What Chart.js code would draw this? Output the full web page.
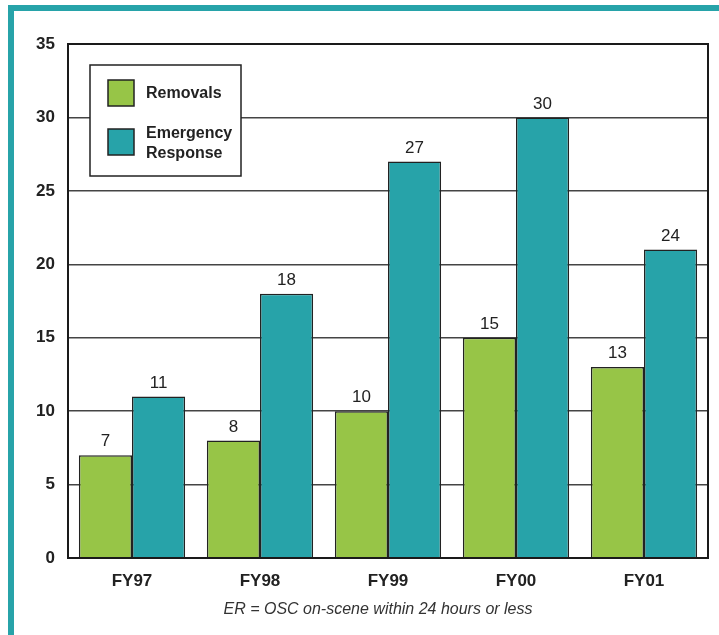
<!DOCTYPE html>
<html>
<head>
<meta charset="utf-8">
<script src="https://cdn.jsdelivr.net/npm/chart.js@4/dist/chart.umd.min.js"></script>
<style>
  html, body { margin: 0; padding: 0; background: #fff; }
  #wrap { width: 719px; height: 635px; position: relative; }
</style>
</head>
<body>
<div id="wrap"><canvas id="chart" width="719" height="635"></canvas></div>
<script>
// data
const years = ['FY97', 'FY98', 'FY99', 'FY00', 'FY01'];
const removals = [7, 8, 10, 15, 13];
const emergency = [11, 18, 27, 30, 21];
// printed labels (the FY01 ER bar is drawn at 21 but labelled 24 in the source)
const removalLabels = ['7', '8', '10', '15', '13'];
const emergencyLabels = ['11', '18', '27', '30', '24'];
const yTicks = [0, 5, 10, 15, 20, 25, 30, 35];
const footnote = 'ER = OSC on-scene within 24 hours or less';

const GREEN = '#97c547';
const TEAL = '#27a3a9';
const FONT = '"Liberation Sans", Arial, Helvetica, sans-serif';

// teal frame, white fill, plot border
const framePlugin = {
    id: 'frame',
    beforeDraw(chart) {
        const ctx = chart.ctx;
        ctx.save();
        ctx.fillStyle = '#fff';
        ctx.fillRect(0, 0, chart.width, chart.height);
        ctx.fillStyle = TEAL;
        ctx.fillRect(8, 5, chart.width - 8, 6);
        ctx.fillRect(8, 5, 6, chart.height - 5);
        ctx.restore();
    },
    afterDraw(chart) {
        const ctx = chart.ctx;
        const a = chart.chartArea;
        ctx.save();
        ctx.strokeStyle = '#1a1a1a';
        ctx.lineWidth = 2;
        ctx.strokeRect(a.left, a.top, a.right - a.left, a.bottom - a.top);

        // footnote
        ctx.fillStyle = '#333';
        ctx.font = 'italic 16px ' + FONT;
        ctx.textAlign = 'center';
        ctx.textBaseline = 'middle';
        ctx.fillText(footnote, 378, 610);
        ctx.restore();
    }
};

// value labels above bars
const valueLabels = {
    id: 'valueLabels',
    afterDatasetsDraw(chart) {
        const ctx = chart.ctx;
        const lists = [removalLabels, emergencyLabels];
        ctx.save();
        ctx.fillStyle = '#222';
        ctx.font = '17px ' + FONT;
        ctx.textAlign = 'center';
        ctx.textBaseline = 'bottom';
        chart.data.datasets.forEach((ds, i) => {
            chart.getDatasetMeta(i).data.forEach((bar, j) => {
                ctx.fillText(lists[i][j], bar.x, bar.y - 5);
            });
        });
        ctx.restore();
    }
};

// legend box in the upper left of the plot
const legendBox = {
    id: 'legendBox',
    afterDraw(chart) {
        const ctx = chart.ctx;
        ctx.save();
        ctx.fillStyle = '#fff';
        ctx.fillRect(90, 65, 151, 111);
        ctx.strokeStyle = '#222';
        ctx.lineWidth = 1.5;
        ctx.strokeRect(90, 65, 151, 111);

        ctx.fillStyle = GREEN;
        ctx.fillRect(108, 80, 26, 26);
        ctx.strokeRect(108, 80, 26, 26);
        ctx.fillStyle = TEAL;
        ctx.fillRect(108, 129, 26, 26);
        ctx.strokeRect(108, 129, 26, 26);

        ctx.fillStyle = '#222';
        ctx.font = 'bold 16px ' + FONT;
        ctx.textAlign = 'left';
        ctx.textBaseline = 'middle';
        ctx.fillText(chart.data.datasets[0].label, 146, 94);
        ctx.fillText('Emergency', 146, 134);
        ctx.fillText('Response', 146, 154);
        ctx.restore();
    }
};

new Chart(document.getElementById('chart'), {
    type: 'bar',
    data: {
        labels: years,
        datasets: [
            {
                label: 'Removals',
                data: removals,
                backgroundColor: GREEN,
                borderColor: '#222',
                borderWidth: 1.5,
                borderSkipped: 'bottom'
            },
            {
                label: 'Emergency Response',
                data: emergency,
                backgroundColor: TEAL,
                borderColor: '#222',
                borderWidth: 1.5,
                borderSkipped: 'bottom'
            }
        ]
    },
    options: {
        responsive: false,
        animation: false,
        layout: { padding: { top: 44, right: 11, left: 0, bottom: 0 } },
        datasets: {
            bar: { categoryPercentage: 0.83, barPercentage: 1.0 }
        },
        plugins: {
            legend: { display: false },
            tooltip: { enabled: false }
        },
        scales: {
            x: {
                grid: { display: false, drawTicks: false },
                border: { display: false },
                ticks: {
                    color: '#222',
                    padding: 13,
                    font: { family: FONT, size: 17, weight: 'bold' }
                },
                afterFit(scale) { scale.height = 77; }
            },
            y: {
                min: 0,
                max: 35,
                afterBuildTicks(scale) {
                    scale.ticks = yTicks.map(v => ({ value: v }));
                },
                grid: { color: '#444', lineWidth: 1.5, drawTicks: false },
                border: { display: false },
                ticks: {
                    color: '#222',
                    padding: 13,
                    font: { family: FONT, size: 17, weight: 'bold' }
                },
                afterFit(scale) { scale.width = 68; }
            }
        }
    },
    plugins: [framePlugin, valueLabels, legendBox]
});
</script>
</body>
</html>
